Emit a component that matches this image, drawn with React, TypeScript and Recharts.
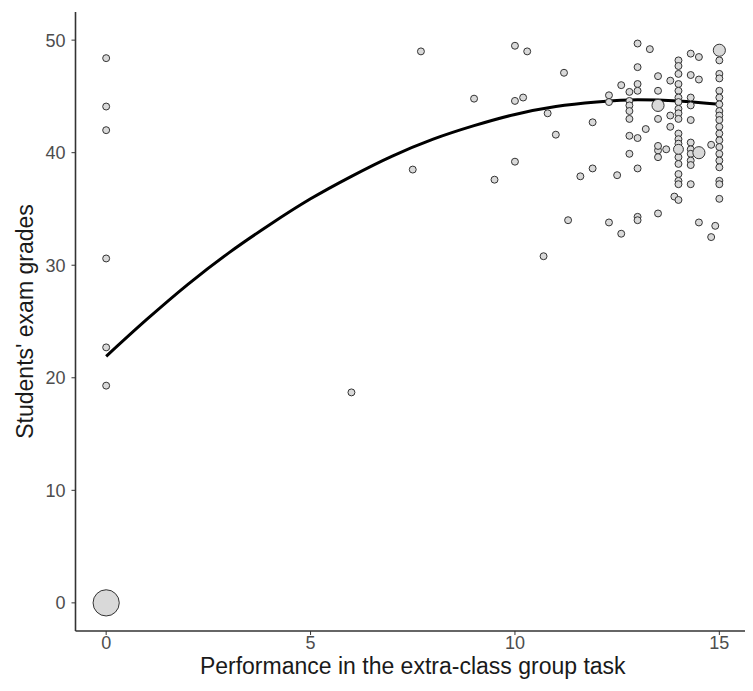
import React from 'react';
import { ComposedChart, Scatter, Line, XAxis, YAxis, ZAxis } from 'recharts';

// observed points: [task score, exam grade]
const zeroScorePoints = [
  [0, 48.4], [0, 44.1], [0, 42.0], [0, 30.6], [0, 22.7], [0, 19.3], [6, 18.7],
];

const midPoints = [
  [7.5, 38.5], [7.7, 49.0], [9.0, 44.8], [9.5, 37.6], [10.0, 49.5], [10.3, 49.0],
  [10.0, 44.6], [10.2, 44.9], [10.0, 39.2], [10.8, 43.5], [11.0, 41.6], [11.2, 47.1],
  [10.7, 30.8], [11.3, 34.0], [11.6, 37.9], [11.9, 38.6], [11.9, 42.7], [12.5, 38.0],
  [12.3, 33.8], [12.6, 32.8], [12.6, 46.0], [12.3, 45.1], [12.3, 44.5],
];

const highPoints = [
  [13.0, 34.3], [13.0, 34.0], [13.5, 34.6], [14.5, 33.8], [14.9, 33.5], [14.8, 32.5],
  [13.9, 36.1], [14.0, 35.8], [14.3, 37.2], [13.0, 38.6], [12.8, 39.9], [12.8, 41.5],
  [13.0, 41.3], [13.2, 42.1], [13.5, 40.2], [13.5, 40.6], [13.5, 39.6], [13.7, 40.3],
  [13.8, 42.3], [13.8, 43.3], [13.5, 43.0], [13.5, 45.5], [13.5, 46.8], [13.0, 47.6],
  [13.0, 49.7], [13.3, 49.2], [13.0, 46.1], [13.0, 45.5], [13.8, 46.4], [14.8, 40.7],
  [12.8, 45.4], [12.8, 44.6], [12.8, 44.2], [12.8, 43.7], [12.8, 43.0],
  [14.0, 41.7], [14.0, 41.2], [14.0, 40.8], [14.0, 39.6], [14.0, 39.0], [14.0, 38.1],
  [14.0, 37.5], [14.0, 37.2], [14.0, 48.2], [14.0, 47.7], [14.0, 47.0], [14.0, 46.1],
  [14.0, 45.5], [14.0, 44.9], [14.0, 44.5], [14.0, 43.9], [14.0, 43.5], [14.0, 43.0],
  [14.3, 40.9], [14.3, 40.3], [14.3, 39.9], [14.3, 39.3], [14.3, 38.9], [14.3, 42.9],
  [14.3, 48.8], [14.3, 46.9], [14.3, 44.9], [14.3, 44.2], [14.5, 48.5], [14.5, 46.5],
];

const fullScorePoints = [
  48.2, 47.0, 46.6, 45.5, 44.9, 44.3, 43.7, 43.3, 42.9, 42.3, 41.7, 41.1, 40.5,
  39.9, 39.3, 38.7, 37.5, 37.2, 35.9,
];

// overlapping observations: [task score, exam grade, count]
const stackedPoints = [
  [0, 0, 14], [15, 49.1, 3], [13.5, 44.2, 3], [14.5, 40.0, 3], [14.0, 40.3, 2],
];

// quadratic fit
const fitX = [0, 1, 2, 3, 4, 5, 6, 7, 8, 9, 10, 11, 12, 13, 14, 15];
const fitY = [21.9, 25.2, 28.3, 31.1, 33.6, 35.9, 37.9, 39.7, 41.2, 42.4, 43.4, 44.1, 44.5, 44.7, 44.6, 44.3];

const xTicks = [0, 5, 10, 15];
const yTicks = [0, 10, 20, 30, 40, 50];

const points = [
  ...zeroScorePoints.map(([x, y]) => ({ x, y, n: 1 })),
  ...midPoints.map(([x, y]) => ({ x, y, n: 1 })),
  ...highPoints.map(([x, y]) => ({ x, y, n: 1 })),
  ...fullScorePoints.map((y) => ({ x: 15, y, n: 1 })),
  ...stackedPoints.map(([x, y, n]) => ({ x, y, n })),
];

const fit = fitX.map((x, i) => ({ x, y: fitY[i] }));

const font = '"Liberation Sans", Arial, sans-serif';
const tickStyle = { fontSize: 18, fill: '#4d4d4d', fontFamily: font };

const XTitle = (props: any) => {
  const { viewBox } = props;
  return (
    <text
      x={viewBox.x + viewBox.width / 2}
      y={viewBox.y + 43}
      textAnchor="middle"
      fontSize={23}
      fontFamily={font}
      fill="#1a1a1a"
    >
      Performance in the extra-class group task
    </text>
  );
};

const YTitle = (props: any) => {
  const { viewBox } = props;
  const cy = viewBox.y + viewBox.height / 2;
  return (
    <text
      x={25}
      y={cy}
      transform={`rotate(-90, 25, ${cy})`}
      textAnchor="middle"
      fontSize={23}
      fontFamily={font}
      fill="#1a1a1a"
    >
      Students' exam grades
    </text>
  );
};

export default function App() {
  return (
    <ComposedChart width={745} height={683} margin={{ top: 4, right: 3, bottom: 0, left: 0 }}>
      <XAxis
        type="number"
        dataKey="x"
        domain={[-0.75, 15.75]}
        ticks={xTicks}
        allowDataOverflow
        height={60}
        tick={tickStyle}
        tickSize={4}
        tickMargin={1}
        axisLine={{ stroke: '#333', strokeWidth: 1.6 }}
        tickLine={{ stroke: '#333' }}
        label={{ content: XTitle }}
      />
      <YAxis
        type="number"
        dataKey="y"
        domain={[-2.5, 52.5]}
        ticks={yTicks}
        allowDataOverflow
        width={67.5}
        tick={tickStyle}
        tickSize={4}
        tickMargin={6}
        axisLine={{ stroke: '#333', strokeWidth: 1.6 }}
        tickLine={{ stroke: '#333' }}
        label={{ content: YTitle }}
      />
      <ZAxis type="number" dataKey="n" domain={[1, 14]} range={[38, 540]} />
      <Scatter
        data={points}
        fill="#d9d9d9"
        stroke="#333"
        strokeWidth={1}
        isAnimationActive={false}
      />
      <Line
        data={fit}
        dataKey="y"
        type="monotone"
        stroke="#000"
        strokeWidth={3}
        dot={false}
        activeDot={false}
        isAnimationActive={false}
      />
    </ComposedChart>
  );
}
